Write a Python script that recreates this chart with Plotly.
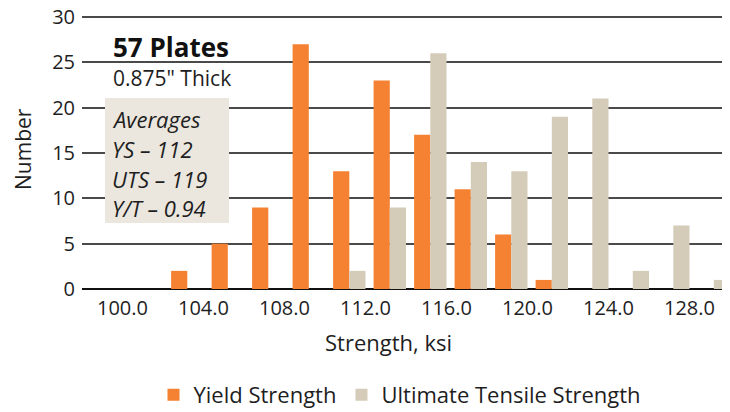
import plotly.graph_objects as go

# Data
bins = [103, 105, 107, 109, 111, 113, 115, 117, 119, 121, 123, 125, 127, 129]
yield_counts = [2, 5, 9, 27, 13, 23, 17, 11, 6, 1, 0, 0, 0, 0]
uts_counts = [0, 0, 0, 0, 2, 9, 26, 14, 13, 19, 21, 2, 7, 1]
tick_values = [100, 104, 108, 112, 116, 120, 124, 128]
tick_labels = ["100.0", "104.0", "108.0", "112.0", "116.0", "120.0", "124.0", "128.0"]
series_names = ["Yield Strength", "Ultimate Tensile Strength"]

ORANGE = "#F58232"
BEIGE = "#D4CCB9"
BOXBG = "#EBE7DE"
TXT = "#1e1e1e"
FONT = "Open Sans"

# The page body adds an 8px offset, so the figure is 8px smaller than the window.
W, H = 722, 404
PLOT_TOP, PLOT_BOTTOM = 14, 289  # screen pixels

fig = go.Figure()
fig.add_trace(go.Bar(x=bins, y=yield_counts, name=series_names[0], marker_color=ORANGE,
                     width=0.8, offset=-0.6, marker_line_width=0, cliponaxis=False))
fig.add_trace(go.Bar(x=bins, y=uts_counts, name=series_names[1], marker_color=BEIGE,
                     width=0.8, offset=0.2, marker_line_width=0, cliponaxis=False))

fig.update_layout(
    width=W, height=H,
    autosize=False,
    margin=dict(l=74, r=0, t=PLOT_TOP - 8, b=H - (PLOT_BOTTOM - 8), autoexpand=False),
    plot_bgcolor="white", paper_bgcolor="white",
    font=dict(family=FONT, size=20, color=TXT),
    showlegend=True,
    legend=dict(orientation="h", x=(400 - 8) / W, xanchor="center", xref="container",
                y=(H - (395 - 8)) / H, yanchor="middle", yref="container",
                font=dict(size=22, color=TXT), itemwidth=30, traceorder="normal"),
    xaxis=dict(range=[98, 130], tickvals=tick_values, ticktext=tick_labels,
               showgrid=False, zeroline=False, showline=False,
               ticks="outside", ticklen=1, tickcolor="rgba(0,0,0,0)",
               tickfont=dict(size=20, color=TXT), automargin=False),
    yaxis=dict(range=[0, 30.33], tick0=0, dtick=5, showgrid=True, gridcolor="#4a4a4a", gridwidth=1.6,
               zeroline=True, zerolinecolor="#111111", zerolinewidth=2, showline=False,
               ticks="outside", ticklen=2, tickcolor="rgba(0,0,0,0)",
               ticklabeloverflow="allow",
               tickfont=dict(size=20, color=TXT), automargin=False),
    bargap=0.2, bargroupgap=0,
)

def px(xp):
    return (xp - 82) / 648.0

def py(yp):
    return (PLOT_BOTTOM - yp) / float(PLOT_BOTTOM - PLOT_TOP)

# Info box
fig.add_shape(type="rect", xref="paper", yref="paper",
              x0=px(105), x1=px(229), y0=py(223), y1=py(98),
              fillcolor=BOXBG, line_width=0, layer="above")

fig.add_annotation(text="<b>57 Plates</b>", xref="paper", yref="paper", x=px(111), y=py(47),
                   xanchor="left", yanchor="middle", showarrow=False,
                   font=dict(size=26, color="#111111", family=FONT))
fig.add_annotation(text="0.875\" Thick", xref="paper", yref="paper", x=px(111), y=py(78),
                   xanchor="left", yanchor="middle", showarrow=False,
                   font=dict(size=21, color=TXT, family=FONT))
box_lines = ["Averages", "YS – 112", "UTS – 119", "Y/T – 0.94"]
box_y = [119, 149, 179, 208]
for t, yy in zip(box_lines, box_y):
    fig.add_annotation(text="<i>" + t + "</i>", xref="paper", yref="paper", x=px(110), y=py(yy),
                       xanchor="left", yanchor="middle", showarrow=False,
                       font=dict(size=22, color=TXT, family=FONT))

# Axis titles
fig.add_annotation(text="Strength, ksi", xref="paper", yref="paper", x=px(388), y=py(342),
                   xanchor="center", yanchor="middle", showarrow=False,
                   font=dict(size=22, color=TXT, family=FONT))
fig.add_annotation(text="Number", xref="paper", yref="paper", x=px(23), y=py(149),
                   xanchor="center", yanchor="middle", showarrow=False, textangle=-90,
                   borderpad=0,
                   font=dict(size=21, color=TXT, family=FONT))

fig.write_html("out.html")
